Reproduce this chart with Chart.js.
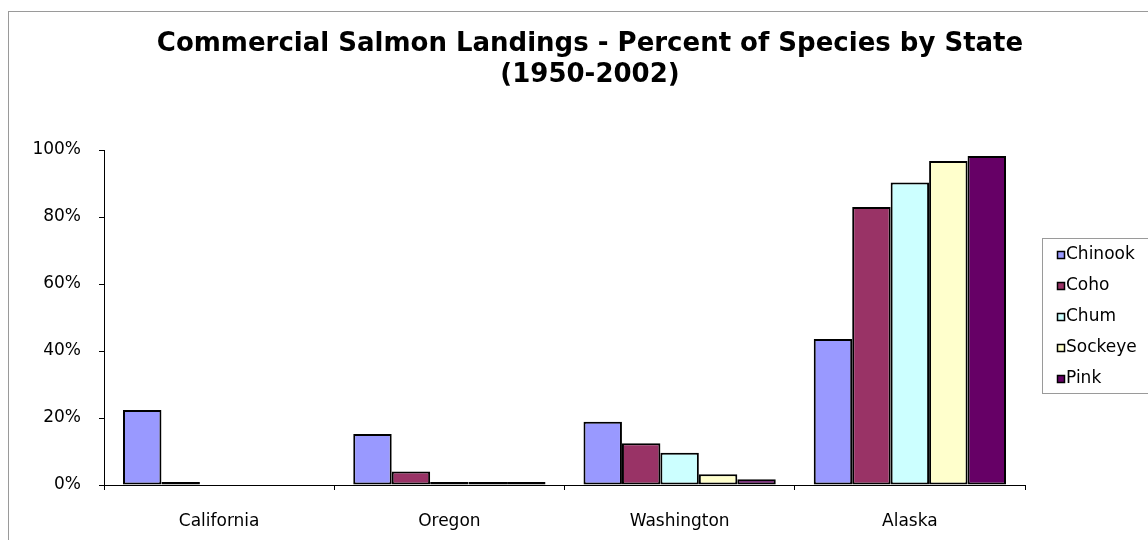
<!DOCTYPE html>
<html>
<head>
<meta charset="utf-8">
<script src="https://cdn.jsdelivr.net/npm/chart.js@4/dist/chart.umd.min.js"></script>
<style>
  html, body { margin: 0; padding: 0; background: #fff; }
  #wrap { position: relative; width: 1148px; height: 540px; overflow: hidden; }
  #frame { position: absolute; left: 8px; top: 11px; width: 1200px; height: 600px; border: 1px solid #9a9a9a; }
  #chart1 { position: absolute; left: 0; top: 0; }
</style>
</head>
<body>
<div id="wrap">
  <div id="frame"></div>
  <canvas id="chart1" width="1148" height="540"></canvas>
</div>
<script>
// Values (percent of each species' landings by state)
const states = ['California', 'Oregon', 'Washington', 'Alaska'];
const speciesNames = ['Chinook', 'Coho', 'Chum', 'Sockeye', 'Pink'];
const chinook = [22.4, 15.2, 18.9, 43.6];
const coho = [0.5, 4.0, 12.5, 83.0];
const chum = [null, 0.1, 9.6, 90.3];
const sockeye = [null, 0.1, 3.2, 96.7];
const pink = [null, 0.1, 1.7, 98.2];
const speciesColors = ['#9999FF', '#993366', '#CCFFFF', '#FFFFCC', '#660066'];
const yTicks = [0, 20, 40, 60, 80, 100];
const titleLines = ['Commercial Salmon Landings - Percent of Species by State', '(1950-2002)'];

const FONT = '"DejaVu Sans", Verdana, sans-serif';
const seriesValues = [chinook, coho, chum, sockeye, pink];

// Title drawn by hand so it can be centred like the original
const titlePlugin = {
  id: 'excelTitle',
  afterDraw(chart) {
    const ctx = chart.ctx;
    ctx.save();
    ctx.fillStyle = '#000';
    ctx.font = 'bold 26px ' + FONT;
    ctx.textAlign = 'center';
    ctx.textBaseline = 'middle';
    ctx.fillText(titleLines[0], 590, 44);
    ctx.fillText(titleLines[1], 590, 75);
    ctx.restore();
  }
};

// Boxed legend on the right side
const boxLegendPlugin = {
  id: 'boxLegend',
  afterDraw(chart) {
    const ctx = chart.ctx;
    const left = 1042;
    const top = 238;
    ctx.save();
    ctx.strokeStyle = '#9a9a9a';
    ctx.lineWidth = 1;
    ctx.strokeRect(left + 0.5, top + 0.5, 140, 155);
    ctx.font = '17px ' + FONT;
    ctx.textBaseline = 'middle';
    chart.data.datasets.forEach((ds, i) => {
      const y = 255 + i * 31;
      ctx.fillStyle = ds.backgroundColor;
      ctx.fillRect(1057, y - 4, 8, 8);
      ctx.strokeStyle = '#000';
      ctx.lineWidth = 1.5;
      ctx.strokeRect(1057.5, y - 3.5, 7, 7);
      ctx.fillStyle = '#000';
      ctx.fillText(ds.label, 1066, y);
    });
    ctx.restore();
  }
};

const ctx = document.getElementById('chart1').getContext('2d');
const chart1 = new Chart(ctx, {
  type: 'bar',
  data: {
    labels: states,
    datasets: speciesNames.map((name, i) => ({
      label: name,
      data: seriesValues[i],
      backgroundColor: speciesColors[i],
      borderColor: '#000',
      borderWidth: 2,
      borderSkipped: false,
      minBarLength: 3,
      categoryPercentage: 0.835,
      barPercentage: 1.0,
    })),
  },
  options: {
    responsive: false,
    animation: false,
    layout: {
      padding: { left: 20, top: 150, right: 123, bottom: 0 },
    },
    scales: {
      x: {
        grid: {
          display: true,
          drawOnChartArea: false,
          drawTicks: true,
          tickLength: 5,
          color: '#000',
          offset: true,
        },
        border: { display: true, color: '#000', width: 1 },
        ticks: {
          color: '#000',
          padding: 21,
          font: { family: FONT, size: 17 },
        },
        afterFit: (scale) => { scale.height = 55; },
      },
      y: {
        min: 0,
        max: 100,
        afterBuildTicks: (scale) => { scale.ticks = yTicks.map(v => ({ value: v })); },
        grid: {
          display: true,
          drawOnChartArea: false,
          drawTicks: true,
          tickLength: 5,
          color: '#000',
        },
        border: { display: true, color: '#000', width: 1 },
        ticks: {
          color: '#000',
          padding: 18,
          font: { family: FONT, size: 17 },
          callback: (v) => v + '%',
        },
        afterFit: (scale) => { scale.width = 84; },
      },
    },
    plugins: {
      legend: { display: false },
      title: { display: false },
      tooltip: { enabled: false },
    },
  },
  plugins: [titlePlugin, boxLegendPlugin],
});
</script>
</body>
</html>
